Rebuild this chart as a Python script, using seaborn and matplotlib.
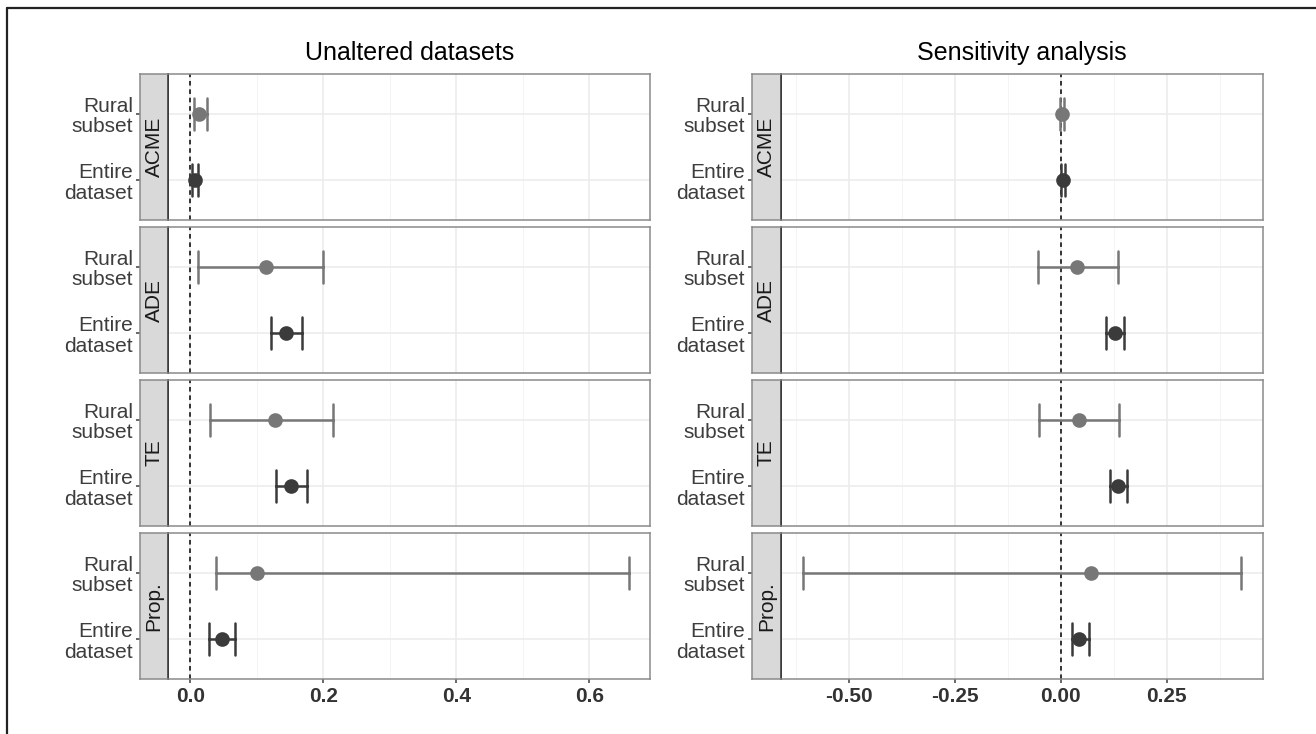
import pandas as pd
import matplotlib
matplotlib.use('Agg')
import matplotlib.pyplot as plt
import seaborn as sns
from matplotlib.lines import Line2D
from matplotlib.ticker import MultipleLocator

# effetti e gruppi
effects = ['ACME', 'ADE', 'TE', 'Prop.']
groups = ['Rural subset', 'Entire dataset']
group_labels = ['Rural\nsubset', 'Entire\ndataset']

# pannello sinistro: dataset non modificati
unalt_rural_est = [0.013, 0.114, 0.127, 0.101]
unalt_rural_lo = [0.005, 0.011, 0.030, 0.039]
unalt_rural_hi = [0.025, 0.200, 0.215, 0.660]
unalt_entire_est = [0.007, 0.144, 0.151, 0.048]
unalt_entire_lo = [0.002, 0.121, 0.129, 0.029]
unalt_entire_hi = [0.011, 0.168, 0.175, 0.068]

# pannello destro: analisi di sensibilita
sens_rural_est = [0.002, 0.038, 0.042, 0.072]
sens_rural_lo = [-0.003, -0.054, -0.051, -0.609]
sens_rural_hi = [0.007, 0.136, 0.138, 0.425]
sens_entire_est = [0.005, 0.129, 0.135, 0.044]
sens_entire_lo = [0.001, 0.107, 0.116, 0.027]
sens_entire_hi = [0.010, 0.150, 0.157, 0.066]

unalt_ticks = [0.0, 0.2, 0.4, 0.6]
unalt_ticklabels = ['0.0', '0.2', '0.4', '0.6']
sens_ticks = [-0.50, -0.25, 0.00, 0.25]
sens_ticklabels = ['-0.50', '-0.25', '0.00', '0.25']

palette = {'Rural subset': '#777777', 'Entire dataset': '#3b3b3b'}


def tabella_lunga(rural, entire):
    """Costruisce la tabella lunga (lo, est, hi per gruppo) per pointplot."""
    righe = []
    for gruppo, (est, lo, hi) in zip(groups, [rural, entire]):
        for i, eff in enumerate(effects):
            for v in (lo[i], est[i], hi[i]):
                righe.append({'effect': eff, 'group': gruppo, 'value': v})
    return pd.DataFrame(righe)


df_unalt = tabella_lunga((unalt_rural_est, unalt_rural_lo, unalt_rural_hi),
                         (unalt_entire_est, unalt_entire_lo, unalt_entire_hi))
df_sens = tabella_lunga((sens_rural_est, sens_rural_lo, sens_rural_hi),
                        (sens_entire_est, sens_entire_lo, sens_entire_hi))

sns.set_theme(style='white')
plt.rcParams['font.family'] = ['Liberation Sans', 'DejaVu Sans']

W, H = 1316, 734
fig = plt.figure(figsize=(W / 100, H / 100), dpi=100)

facet_px = [(74, 220), (227, 373), (380, 526), (533, 679)]
pannelli = [
    dict(df=df_unalt, strip_x=(140, 168.4), ax_x=(168.4, 650.3), xlim=(-0.0328, 0.692),
         ticks=unalt_ticks, labels=unalt_ticklabels, minor=0.1, title='Unaltered datasets'),
    dict(df=df_sens, strip_x=(752, 780.5), ax_x=(780.5, 1263), xlim=(-0.6617, 0.4773),
         ticks=sens_ticks, labels=sens_ticklabels, minor=0.125, title='Sensitivity analysis'),
]

for p in pannelli:
    for k, eff in enumerate(effects):
        top, bot = facet_px[k]
        yb = 1 - bot / H
        hh = (bot - top) / H
        ax = fig.add_axes([p['ax_x'][0] / W, yb, (p['ax_x'][1] - p['ax_x'][0]) / W, hh])
        strip = fig.add_axes([p['strip_x'][0] / W, yb, (p['strip_x'][1] - p['strip_x'][0]) / W, hh])

        sub = p['df'][p['df']['effect'] == eff]
        ax.axvline(0, color='black', lw=1.1, ls=(0, (3, 2.5)), zorder=1)
        sns.pointplot(data=sub, x='value', y='group', hue='group', order=groups,
                      hue_order=groups, palette=palette, estimator='median',
                      errorbar=('pi', 100), capsize=0.48, linestyle='none',
                      markersize=8.5, err_kws={'linewidth': 1.8}, dodge=False,
                      legend=False, ax=ax)

        ax.set_ylim(1.6, -0.6)
        ax.set_xlim(*p['xlim'])
        ax.set_xlabel('')
        ax.set_ylabel('')
        ax.set_facecolor('white')
        ax.xaxis.set_minor_locator(MultipleLocator(p['minor']))
        ax.set_xticks(p['ticks'])
        ax.grid(True, which='major', color='#EBEBEB', lw=1.1)
        ax.grid(True, which='minor', axis='x', color='#F4F4F4', lw=0.7)
        ax.set_axisbelow(True)
        ax.tick_params(axis='y', left=False, labelleft=False)
        ax.tick_params(axis='x', which='minor', bottom=False)
        for s in ax.spines.values():
            s.set_color('#8a8a8a')
            s.set_linewidth(1.1)
        ax.spines['left'].set_color('#333333')
        if k == len(effects) - 1:
            ax.set_xticklabels(p['labels'])
            ax.tick_params(axis='x', bottom=True, length=3, color='#555555', pad=3,
                           labelsize=15, labelcolor='#333333')
            for t in ax.get_xticklabels():
                t.set_fontweight('bold')
        else:
            ax.tick_params(axis='x', bottom=False, labelbottom=False)
        if k == 0:
            ax.set_title(p['title'], fontsize=18, color='black', pad=10)

        # striscia laterale del facet
        strip.set_facecolor('#D9D9D9')
        strip.set_xticks([])
        strip.set_ylim(1.6, -0.6)
        strip.set_yticks([0, 1])
        strip.set_yticklabels(group_labels, linespacing=1.1)
        strip.tick_params(axis='y', left=True, length=3, color='#555555', pad=2,
                          labelsize=15, labelcolor='#3d3d3d')
        for s in strip.spines.values():
            s.set_color('#8a8a8a')
            s.set_linewidth(1.1)
        strip.spines['right'].set_color('#333333')
        strip.text(0.5, 0.5, eff, rotation=90, ha='center', va='center',
                   fontsize=15, color='#1a1a1a', transform=strip.transAxes)

# cornice in alto e a sinistra
fig.add_artist(Line2D([7 / W, 1], [1 - 8 / H, 1 - 8 / H], color='#222222', lw=1.6))
fig.add_artist(Line2D([7 / W, 7 / W], [0, 1 - 8 / H], color='#222222', lw=1.6))

fig.savefig('out.png', dpi=100, facecolor='white')
